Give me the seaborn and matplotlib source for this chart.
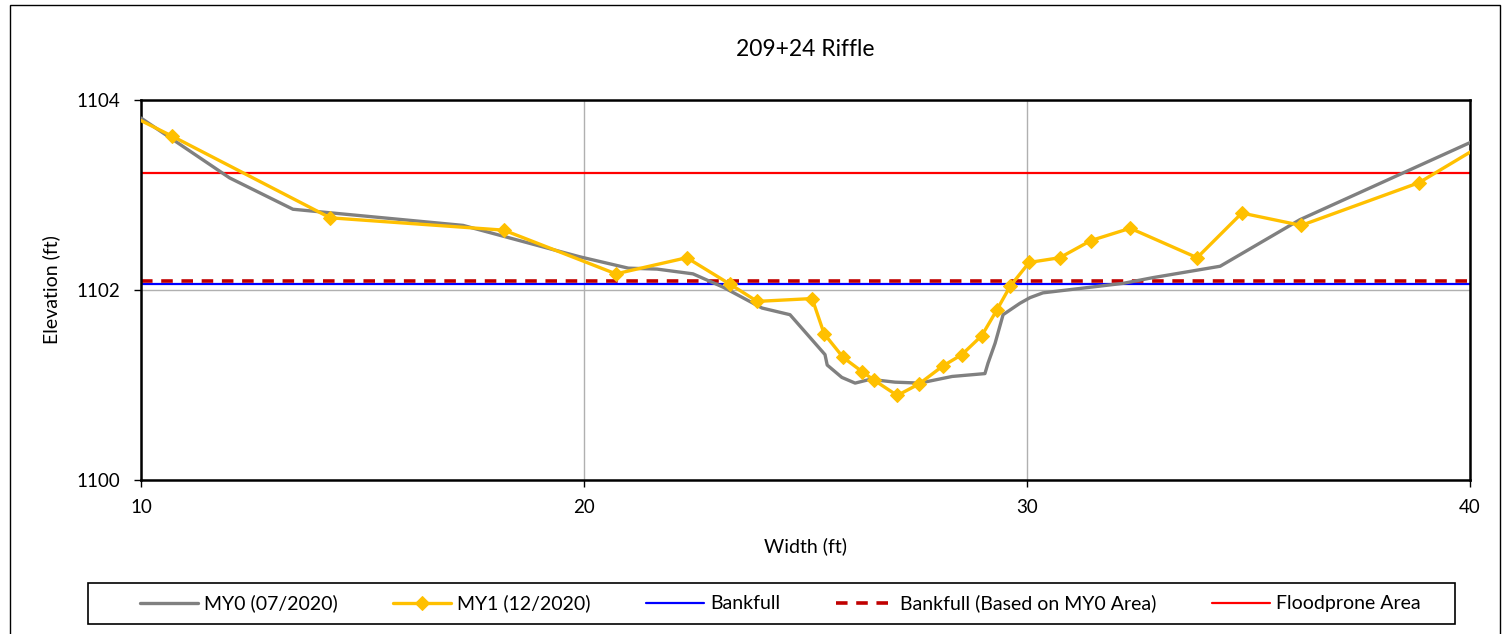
import matplotlib
matplotlib.use("Agg")
import matplotlib.pyplot as plt
import seaborn as sns
import pandas as pd
from matplotlib.patches import Rectangle

# ---- data ----
my0_x = [10.0, 12.0, 13.43, 17.27, 19.9, 21.0, 21.65, 22.46, 23.14, 24.02, 24.65,
         25.44, 25.49, 25.82, 26.12, 26.46, 27.02, 27.58, 28.31, 29.05, 29.12,
         29.28, 29.46, 29.84, 30.07, 30.36, 32.17, 32.84, 34.36, 36.16, 40.04]
my0_y = [1103.81, 1103.18, 1102.85, 1102.68, 1102.35, 1102.23, 1102.22, 1102.17,
         1102.03, 1101.81, 1101.74, 1101.32, 1101.21, 1101.08, 1101.02, 1101.06,
         1101.03, 1101.02, 1101.09, 1101.12, 1101.23, 1101.44, 1101.74, 1101.86,
         1101.92, 1101.97, 1102.07, 1102.13, 1102.25, 1102.74, 1103.56]

my1_x = [9.5, 10.70, 14.27, 18.19, 20.72, 22.32, 23.30, 23.91, 25.15, 25.42, 25.85,
         26.28, 26.55, 27.07, 27.56, 28.10, 28.53, 28.98, 29.32, 29.62, 30.05,
         30.74, 31.44, 32.33, 33.84, 34.85, 36.19, 38.85, 40.5]
my1_y = [1103.90, 1103.62, 1102.76, 1102.63, 1102.17, 1102.34, 1102.06, 1101.88,
         1101.91, 1101.54, 1101.29, 1101.14, 1101.05, 1100.89, 1101.01, 1101.20,
         1101.32, 1101.52, 1101.79, 1102.04, 1102.29, 1102.34, 1102.52, 1102.65,
         1102.34, 1102.81, 1102.68, 1103.13, 1103.59]

bankfull = 1102.06
bankfull_my0 = 1102.095
floodprone = 1103.23

x_ticks = [10, 20, 30, 40]
y_ticks = [1100, 1102, 1104]

title = "209+24 Riffle"
x_label = "Width (ft)"
y_label = "Elevation (ft)"
labels = ["MY0 (07/2020)", "MY1 (12/2020)", "Bankfull",
          "Bankfull (Based on MY0 Area)", "Floodprone Area"]

# ---- plot ----
sns.set_theme(style="white")
plt.rcParams['font.family'] = ['Lato', 'DejaVu Sans']
plt.rcParams['text.color'] = 'black'
plt.rcParams['axes.labelcolor'] = 'black'
plt.rcParams['xtick.color'] = 'black'
plt.rcParams['ytick.color'] = 'black'

W, H = 1507, 634
fig = plt.figure(figsize=(W / 100, H / 100), dpi=100)
ax = fig.add_axes([141/W, 1-480/H, (1470-141)/W, (480-100)/H])

df0 = pd.DataFrame({"x": my0_x, "y": my0_y})
df1 = pd.DataFrame({"x": my1_x, "y": my1_y})

ax.axhline(bankfull, color="#0000FF", lw=1.6, zorder=2, label=labels[2])
ax.axhline(bankfull_my0, color="#C00000", lw=2.6, ls=(0, (3.2, 2.4)), zorder=2,
           label=labels[3])
ax.axhline(floodprone, color="#FF0000", lw=1.6, zorder=2, label=labels[4])

sns.lineplot(data=df0, x="x", y="y", sort=False, ax=ax, color="#808080",
             lw=2.4, label=labels[0], zorder=3)
sns.lineplot(data=df1, x="x", y="y", sort=False, ax=ax, color="#FFC000",
             lw=2.4, marker="D", markersize=7, markeredgecolor="#FFC000",
             label=labels[1], zorder=4)

ax.set_xlim(10, 40)
ax.set_ylim(1100, 1104)
ax.set_xticks(x_ticks)
ax.set_yticks(y_ticks)
ax.tick_params(axis="both", labelsize=13.5, direction="out", length=5, width=1,
               color="black", bottom=True, left=True)
ax.tick_params(axis="x", pad=9)
ax.tick_params(axis="y", pad=10)
ax.grid(True, color="#b0b0b0", lw=1)
for s in ax.spines.values():
    s.set_color("black")
    s.set_linewidth(1.8)

ax.set_title(title, fontsize=16.5, pad=32)
ax.set_xlabel(x_label, fontsize=14, labelpad=15)
ax.set_ylabel(y_label, fontsize=14, labelpad=12)

handles, labs = ax.get_legend_handles_labels()
if ax.get_legend() is not None:
    ax.get_legend().remove()
order = [labs.index(l) for l in labels]
leg = fig.legend([handles[i] for i in order], [labs[i] for i in order],
                 loc="center", ncol=5, bbox_to_anchor=(780/W, 1-603.5/H),
                 fontsize=14, frameon=False, handlelength=3.0,
                 handletextpad=0.3, columnspacing=2.85, borderaxespad=0)

# legend frame
fig.patches.append(Rectangle((88/W, 1-624/H), (1455-88)/W, (624-583)/H,
                             transform=fig.transFigure, fill=False,
                             edgecolor="black", lw=1.2))
# outer chart border
fig.patches.append(Rectangle((10/W, -0.05), 1490/W, 1.05-5/H,
                             transform=fig.transFigure, fill=False,
                             edgecolor="black", lw=1))

fig.savefig("out.png", dpi=100)
